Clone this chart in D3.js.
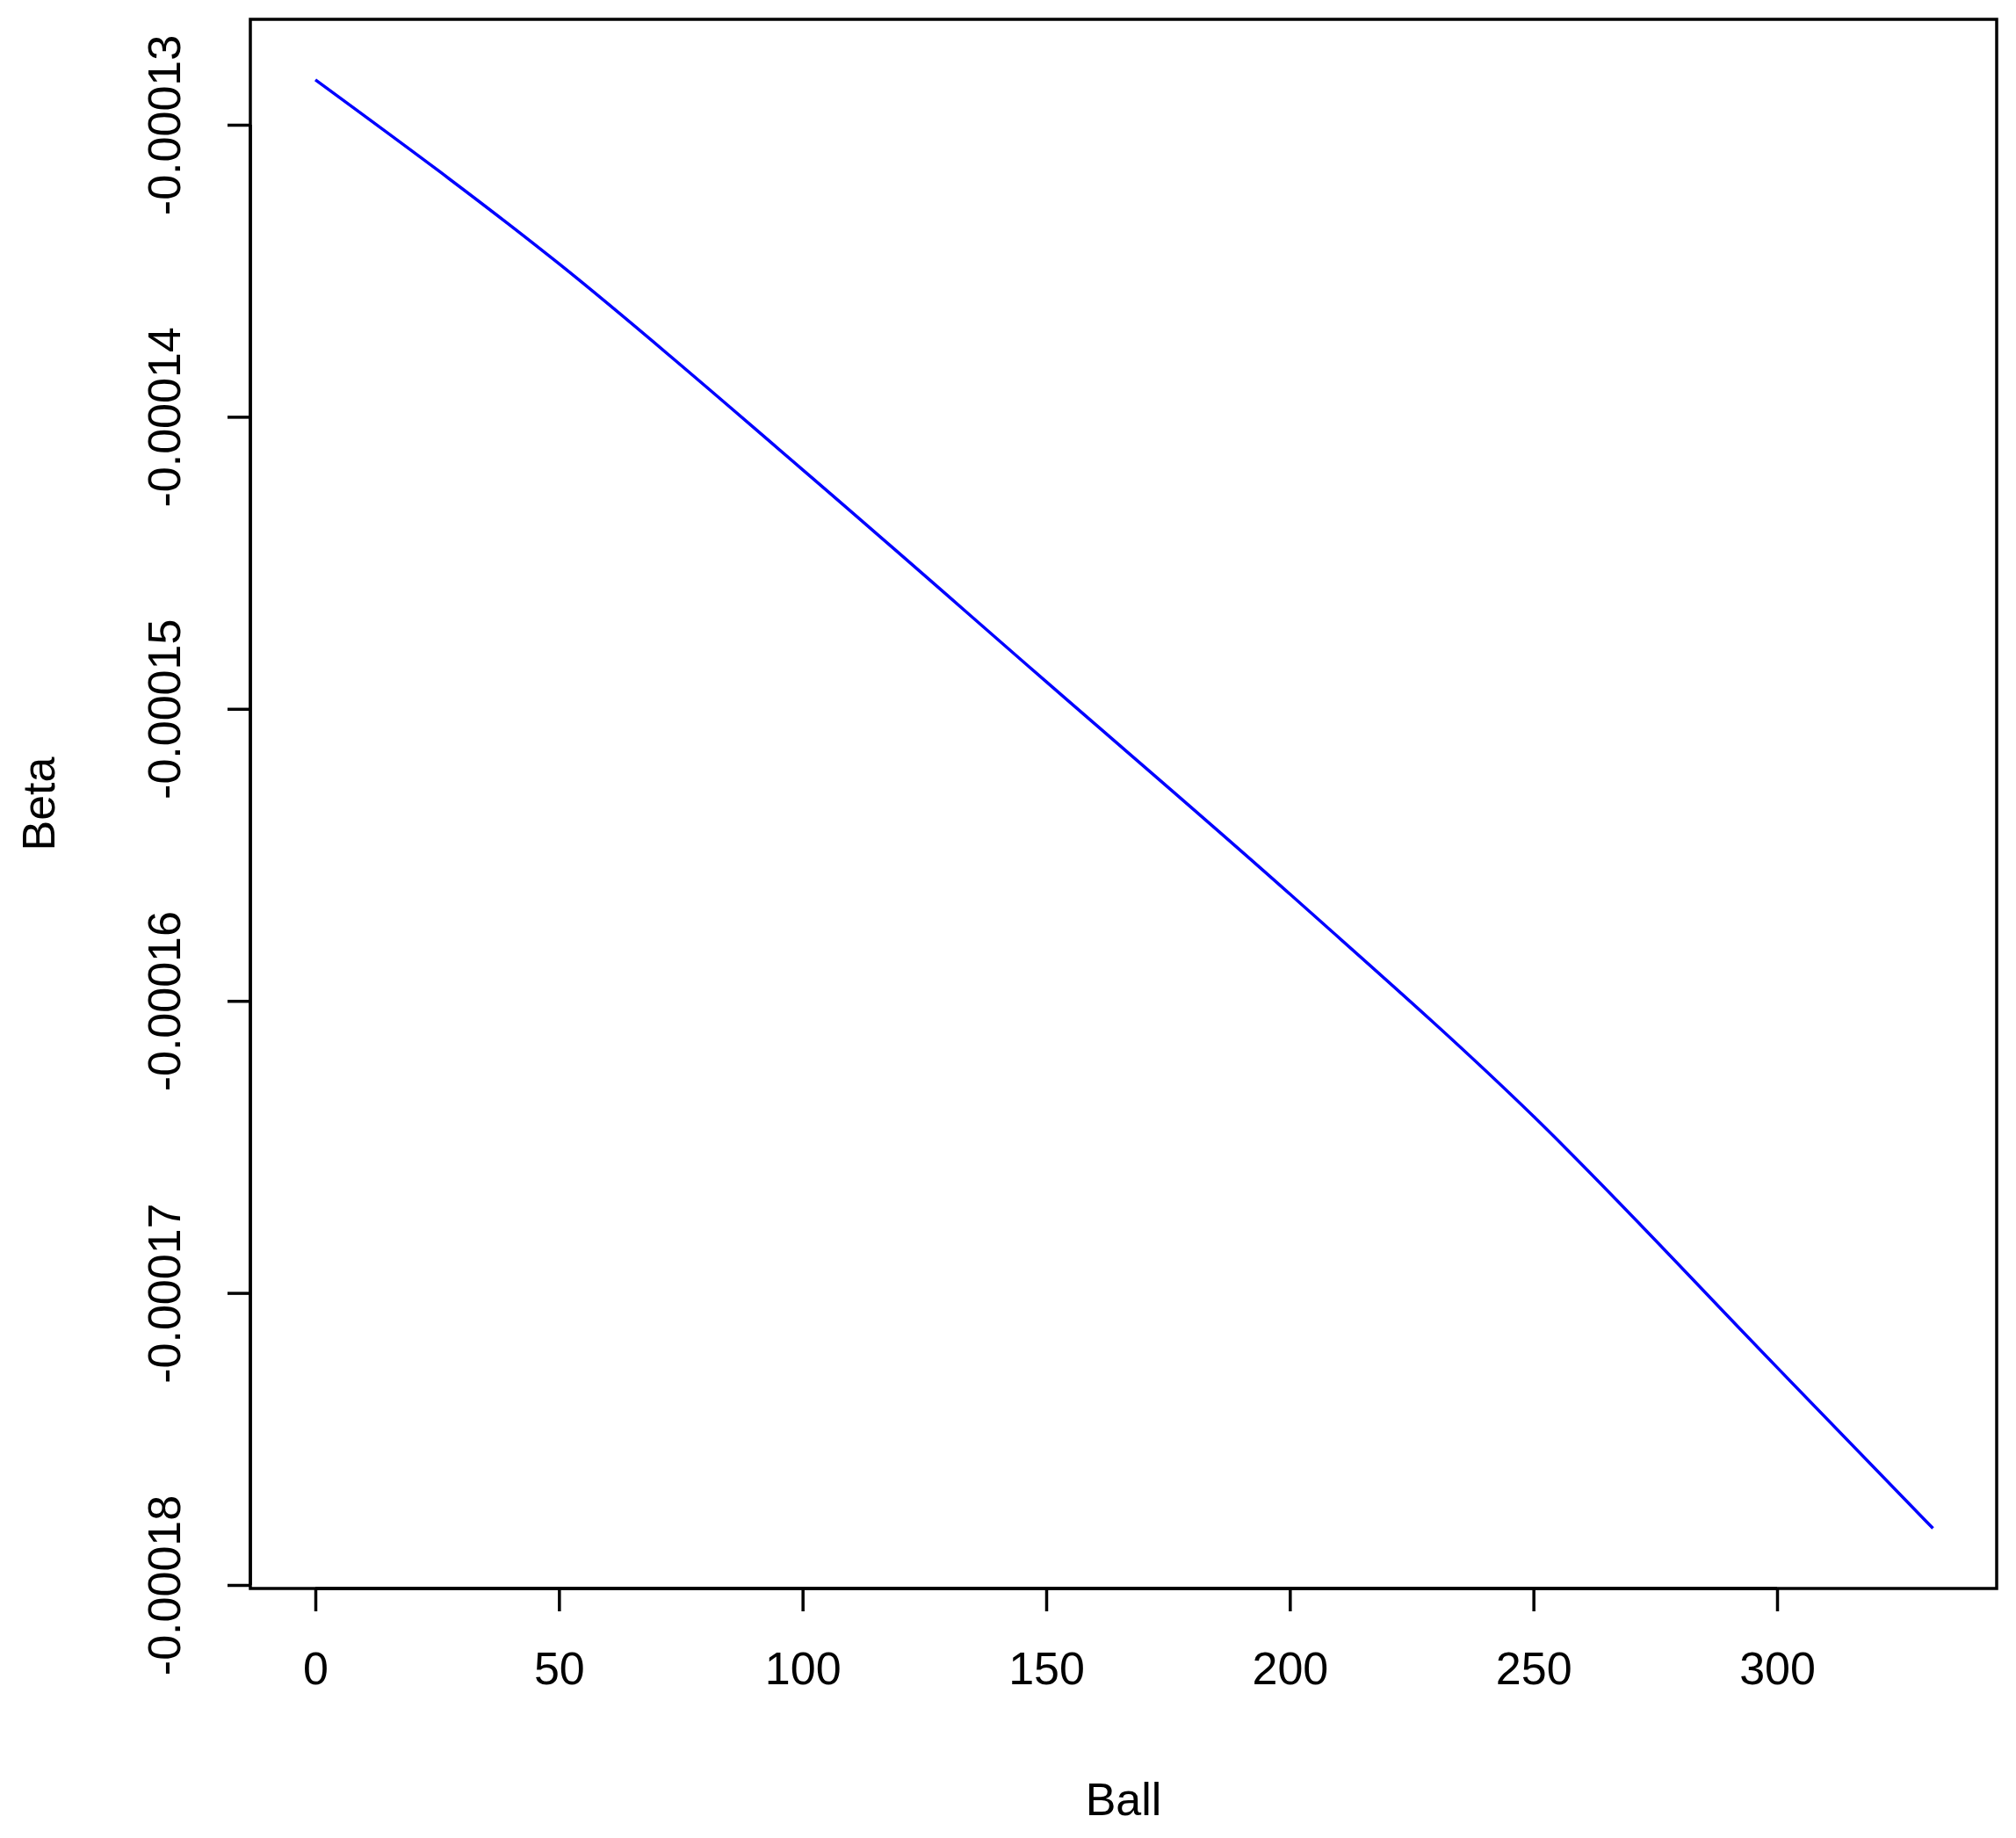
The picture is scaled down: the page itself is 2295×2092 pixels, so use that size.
<!DOCTYPE html><html><head><script src="https://cdn.jsdelivr.net/npm/d3@7"></script>
<style>body{margin:0;background:#fff}text{font-family:"Liberation Sans",Arial,sans-serif}</style></head><body>
<svg id="c" width="2295" height="2092"></svg>
<script>
const ballValues=[0,50,100,150,200,250,300,332];
const betaValues=[-0.00012846,-0.00013476,-0.00014181,-0.00014907,-0.00015634,-0.00016395,-0.00017255,-0.00017806];
const xTicks=[0,50,100,150,200,250,300];
const yTicks=[-0.00013,-0.00014,-0.00015,-0.00016,-0.00017,-0.00018];
const svg=d3.select("#c");
const L=285,R=2273,T=22,B=1808;
const x=d3.scaleLinear().domain([0,300]).range([359,2023]);
const y=d3.scaleLinear().domain([-0.00013,-0.00018]).range([142,1804]);
svg.append("rect").attr("x",L).attr("y",T).attr("width",R-L).attr("height",B-T).attr("fill","none").attr("stroke","#000").attr("stroke-width",3.5);
const xa=svg.append("g").attr("transform",`translate(0,${B})`).call(d3.axisBottom(x).tickValues(xTicks).tickSize(26).tickPadding(46).tickFormat(d3.format("d")));
xa.select(".domain").attr("d",`M${x(0)},0H${x(300)}`);
const ya=svg.append("g").attr("transform",`translate(${L},0)`).call(d3.axisLeft(y).tickValues(yTicks).tickSize(26).tickFormat(d=>d.toFixed(5)));
ya.select(".domain").attr("d",`M0,${y(-0.00013)}V${y(-0.00018)}`);
svg.selectAll(".domain,.tick line").attr("stroke","#000").attr("stroke-width",3.5);
xa.selectAll("text").attr("font-size",52).attr("fill","#000");
ya.selectAll("text").attr("font-size",52).attr("fill","#000").attr("transform","rotate(-90)").attr("x",0).attr("y",-80).attr("dy","0").attr("text-anchor","middle");
svg.append("path").datum(ballValues.map((b,i)=>[b,betaValues[i]])).attr("fill","none").attr("stroke","#0000ff").attr("stroke-width",3.5)
 .attr("d",d3.line().x(d=>x(d[0])).y(d=>y(d[1])).curve(d3.curveMonotoneX));
svg.append("text").attr("x",(L+R)/2).attr("y",2066).attr("text-anchor","middle").attr("font-size",52).text("Ball");
svg.append("text").attr("transform","translate(62,915) rotate(-90)").attr("text-anchor","middle").attr("font-size",52).text("Beta");
</script></body></html>
